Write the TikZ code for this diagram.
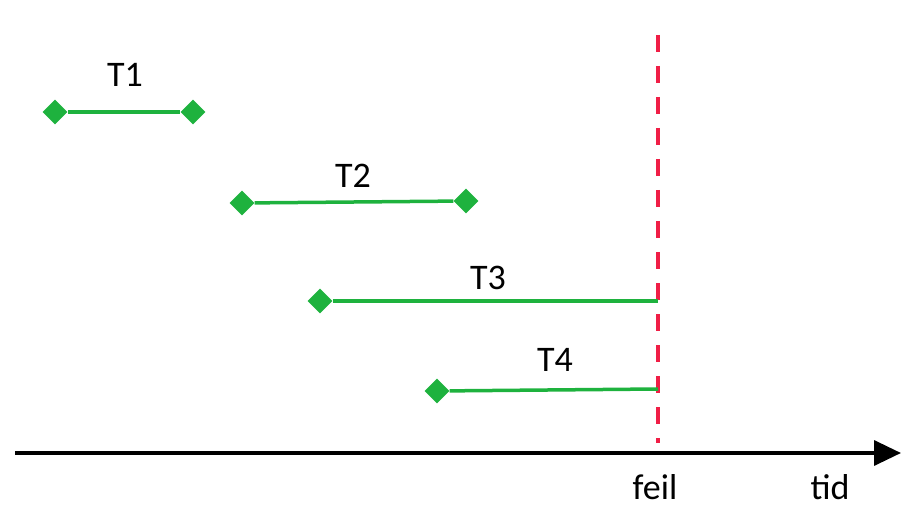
\documentclass[tikz,border=0pt]{standalone}
\usepackage{fontspec}
\setmainfont{Carlito}
\usetikzlibrary{shapes.geometric,arrows.meta}
\definecolor{seg}{RGB}{30,178,62}
\definecolor{fail}{RGB}{240,30,70}
\tikzset{
  endpt/.style={diamond,fill=seg,inner sep=0pt,minimum width=25pt,minimum height=25pt},
  segline/.style={seg,line width=3.5pt},
  lbl/.style={font=\fontsize{36}{40}\selectfont,inner sep=0pt},
}
\begin{document}
\begin{tikzpicture}[x=1pt,y=-1pt]
\useasboundingbox (0,0) rectangle (906,508);
% axis
\coordinate (ax0) at (15,453);
\coordinate (ax1) at (901,453);
\draw[line width=3.5pt,-{Triangle[length=27pt,width=25pt]}] (ax0) -- (ax1);
% failure line
\coordinate (f0) at (658,35);
\coordinate (f1) at (658,443);
\draw[fail,line width=3.5pt,dash pattern=on 17pt off 14pt] (f0) -- (f1);
% T1
\node[endpt] (a1) at (55,112) {};
\node[endpt] (b1) at (193,112) {};
\draw[segline] (a1) -- (b1);
\node[lbl] (t1) at (125,75) {T1};
% T2
\node[endpt] (a2) at (242,203) {};
\node[endpt] (b2) at (466,201) {};
\draw[segline] (a2) -- (b2);
\node[lbl] (t2) at (353,176) {T2};
% T3
\node[endpt] (a3) at (320,301) {};
\coordinate (b3) at (658,301);
\draw[segline] (a3) -- (b3);
\node[lbl] (t3) at (488,278) {T3};
% T4
\node[endpt] (a4) at (437,391) {};
\coordinate (b4) at (658,389);
\draw[segline] (a4) -- (b4);
\node[lbl] (t4) at (555,360) {T4};
% axis labels
\node[lbl] (feil) at (655,487) {feil};
\node[lbl] (tid) at (830,487) {tid};
\end{tikzpicture}
\end{document}
